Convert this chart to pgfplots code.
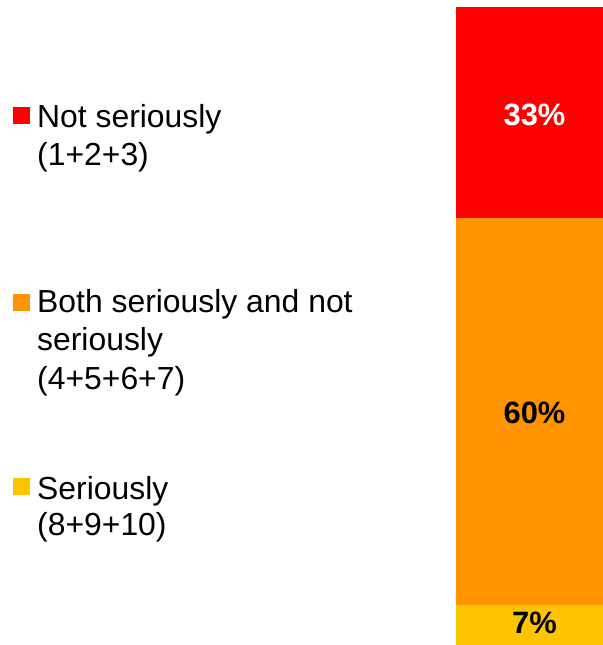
\documentclass[border=0pt]{standalone}
\usepackage{pgfplots}
\pgfplotsset{compat=1.18}
\usepackage{fontspec}
\setmainfont{Liberation Sans}
\definecolor{cRed}{HTML}{FF0000}
\definecolor{cOrange}{HTML}{FF9300}
\definecolor{cYellow}{HTML}{FFC400}
\begin{document}
\begin{tikzpicture}
\path[use as bounding box] (0bp,0bp) rectangle (603bp,645bp);
\begin{axis}[
  at={(456bp,0bp)}, anchor=south west,
  scale only axis, width=147bp, height=638bp,
  hide axis, ybar stacked, bar width=147bp,
  xmin=-0.5, xmax=0.5, ymin=0, ymax=100,
  clip=false,
]
\addplot[fill=cYellow, draw=none] coordinates {(0,6.3)};
\addplot[fill=cOrange, draw=none] coordinates {(0,60.6)};
\addplot[fill=cRed, draw=none] coordinates {(0,33.1)};
\coordinate (L1) at (axis cs:0,83.1);
\coordinate (L2) at (axis cs:0,36.4);
\coordinate (L3) at (axis cs:0,3.4);
\end{axis}
\begin{scope}[every node/.style={inner sep=0pt, xshift=5bp, font=\fontsize{31}{36}\selectfont\bfseries}]
\node[text=white] at (L1) {33\%};
\node[text=black] at (L2) {60\%};
\node[text=black] at (L3) {7\%};
\end{scope}
% legend
\begin{scope}[x=1bp,y=1bp]
\fill[cRed] (13,645-124) rectangle (30,645-107);
\fill[cOrange] (13,645-311) rectangle (30,645-294);
\fill[cYellow] (13,645-495) rectangle (30,645-478);
\begin{scope}[every node/.style={anchor=base west, inner sep=0pt, font=\fontsize{32}{36}\selectfont}]
\node at (37,645-128) {Not seriously};
\node at (37,645-166) {(1+2+3)};
\node at (37,645-312) {Both seriously and not};
\node at (37,645-350) {seriously};
\node at (37,645-389) {(4+5+6+7)};
\node at (37,645-499) {Seriously};
\node at (37,645-535) {(8+9+10)};
\end{scope}
\end{scope}
\end{tikzpicture}
\end{document}
